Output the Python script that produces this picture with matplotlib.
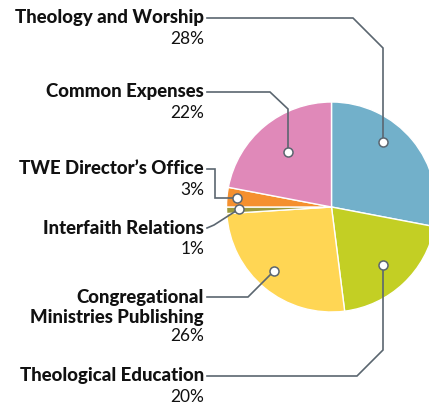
import matplotlib.pyplot as plt

# budget split, clockwise from the top
labels = ["Theology and Worship", "Theological Education",
          "Congregational\nMinistries Publishing", "Interfaith Relations",
          "TWE Director\u2019s Office", "Common Expenses"]
shares = [28, 20, 26, 1, 3, 22]
colors = ["#72B0CA", "#C3CF24", "#FFD654", "#9B9A3C", "#F5902F", "#E089B9"]

# label text anchors (y of first line) and leader paths, pixel coords
label_y = [18, 376, 297, 228, 169, 92]
leaders = [
    [(207, 18), (353, 18), (383, 48), (383, 142)],
    [(207, 376), (357, 376), (383, 350), (383, 265)],
    [(207, 297), (248, 297), (274, 271)],
    [(207, 228), (214, 225), (239, 209)],
    [(207, 169), (215, 169), (215, 198), (237, 198)],
    [(207, 92), (270, 92), (288, 109), (288, 152)],
]

fig = plt.figure(figsize=(4.29, 4.04), dpi=100)
ax = fig.add_axes([0, 0, 1, 1])

ax.pie(shares, colors=colors, startangle=-90, counterclock=True,
       center=(331.5, 207), radius=105,
       wedgeprops=dict(edgecolor="white", linewidth=1.0))
ax.set_xlim(0, 429)
ax.set_ylim(404, 0)
ax.set_aspect("auto")
ax.axis("off")

line_col = "#5B6670"
for name, pct, y, path in zip(labels, shares, label_y, leaders):
    xs = [p[0] for p in path]
    ys = [p[1] for p in path]
    ax.plot(xs, ys, color=line_col, lw=1.2, solid_joinstyle="miter", zorder=3)
    ax.plot(xs[-1], ys[-1], "o", ms=6.5, mfc="white", mec=line_col, mew=1.1, zorder=4)
    lines = name.split("\n")
    for i, ln in enumerate(lines):
        ax.text(204, y + i * 20, ln, ha="right", va="center", family="Lato",
                weight="black", fontsize=13.4, color="#111111")
    ax.text(204, y + 21 + (len(lines) - 1) * 18, f"{pct}%",
            ha="right", va="center", family="Lato", fontsize=12.5, color="#111111")

fig.savefig("out.png", dpi=100)
